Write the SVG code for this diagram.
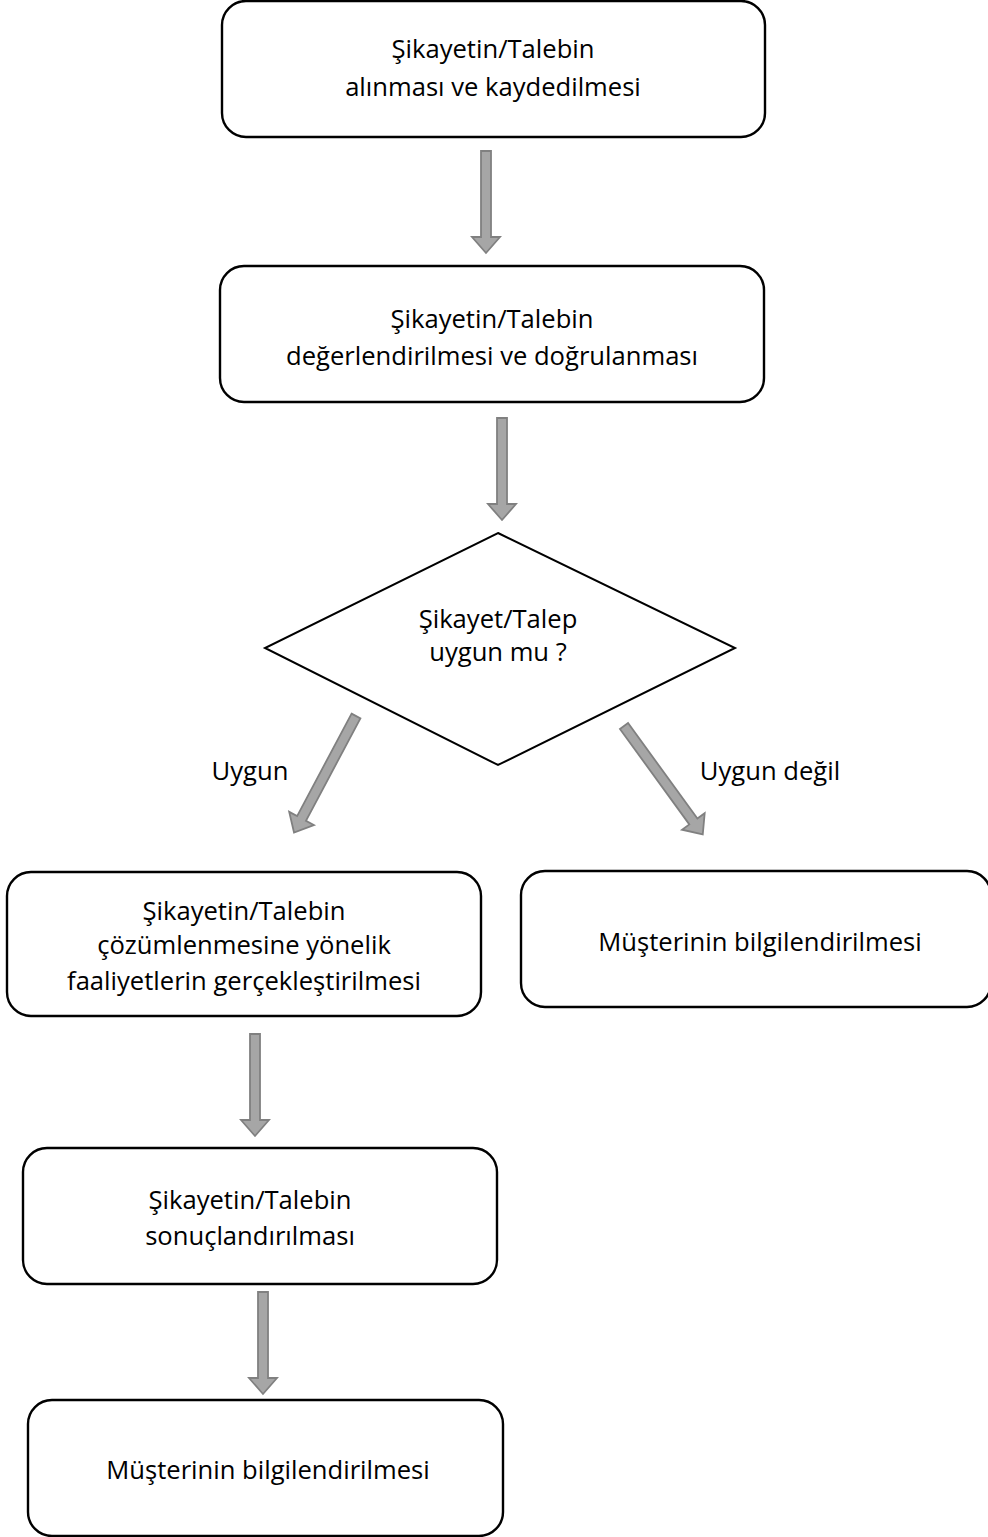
<svg xmlns="http://www.w3.org/2000/svg" width="988" height="1537" viewBox="0 0 988 1537">
<style>
.box{fill:#fff;stroke:#000;stroke-width:2.4}
.t{font-family:"Open Sans","Liberation Sans",Arial,sans-serif;font-size:25.6px;fill:#000;text-anchor:middle}
.arr{fill:#a6a6a6;stroke:#808080;stroke-width:1.8;stroke-linejoin:miter}
</style>
<defs>
<polygon id="va" class="arr" points="-5,0 5,0 5,86 14,86 0,102 -14,86 -5,86"/>
</defs>
<rect width="988" height="1537" fill="#fff"/>
<g id="n1"><rect class="box" x="222" y="1" width="543" height="136" rx="24"/>
<text class="t" x="493" y="58">Şikayetin/Talebin</text><text class="t" x="493" y="96">alınması ve kaydedilmesi</text></g>
<g id="n2"><rect class="box" x="220" y="266" width="544" height="136" rx="24"/>
<text class="t" x="492" y="328">Şikayetin/Talebin</text><text class="t" x="492" y="365">değerlendirilmesi ve doğrulanması</text></g>
<g id="n3"><polygon class="box" points="498,533 735,648 498,765 265,648" style="stroke-width:2"/>
<text class="t" x="498" y="628">Şikayet/Talep</text><text class="t" x="498" y="661">uygun mu ?</text></g>
<g id="n4"><rect class="box" x="7" y="872" width="474" height="144" rx="24"/>
<text class="t" x="244" y="920">Şikayetin/Talebin</text><text class="t" x="244" y="954">çözümlenmesine yönelik</text><text class="t" x="244" y="990">faaliyetlerin gerçekleştirilmesi</text></g>
<g id="n5"><rect class="box" x="521" y="871" width="470" height="136" rx="24"/>
<text class="t" x="760" y="951">Müşterinin bilgilendirilmesi</text></g>
<g id="n6"><rect class="box" x="23" y="1148" width="474" height="136" rx="24"/>
<text class="t" x="250" y="1209">Şikayetin/Talebin</text><text class="t" x="250" y="1245">sonuçlandırılması</text></g>
<g id="n7"><rect class="box" x="28" y="1400" width="475" height="136" rx="24"/>
<text class="t" x="268" y="1479">Müşterinin bilgilendirilmesi</text></g>
<g id="connectors">
<use href="#va" x="486" y="151"/>
<use href="#va" x="502" y="418"/>
<use href="#va" x="255" y="1034"/>
<use href="#va" x="263" y="1292"/>
<g transform="translate(356,716) rotate(28)"><polygon class="arr" points="-5,0 5,0 5,116 14,116 0,132 -14,116 -5,116"/></g>
<g transform="translate(624,726) rotate(-36)"><polygon class="arr" points="-5,0 5,0 5,118 14,118 0,134 -14,118 -5,118"/></g>
<text class="t" x="250" y="780">Uygun</text>
<text class="t" x="770" y="780">Uygun değil</text>
</g>
</svg>
